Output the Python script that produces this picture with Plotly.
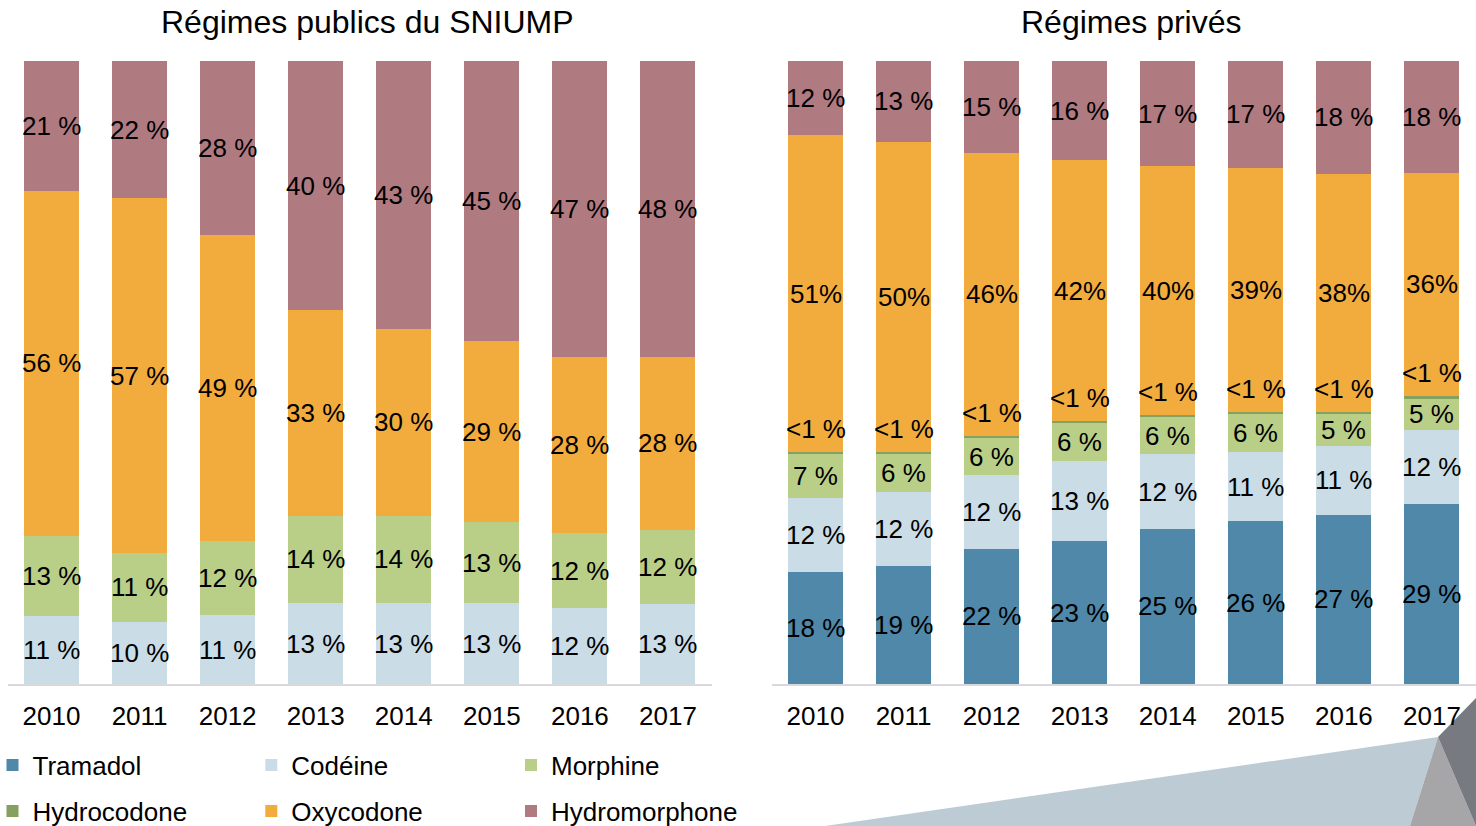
import plotly.graph_objects as go

W, H = 1476, 826

years = ["2010", "2011", "2012", "2013", "2014", "2015", "2016", "2017"]

# Régimes publics du SNIUMP (percent labels as shown)
pub_codeine = [11, 10, 11, 13, 13, 13, 12, 13]
pub_morphine = [13, 11, 12, 14, 14, 13, 12, 12]
pub_oxycodone = [56, 57, 49, 33, 30, 29, 28, 28]
pub_hydromorphone = [21, 22, 28, 40, 43, 45, 47, 48]

# Régimes privés
prv_tramadol = [18, 19, 22, 23, 25, 26, 27, 29]
prv_codeine = [12, 12, 12, 13, 12, 11, 11, 12]
prv_morphine = [7, 6, 6, 6, 6, 6, 5, 5]
prv_hydrocodone = [0.4, 0.4, 0.4, 0.4, 0.4, 0.4, 0.4, 0.4]  # "<1 %"
prv_oxycodone = [51, 50, 46, 42, 40, 39, 38, 36]
prv_hydromorphone = [12, 13, 15, 16, 17, 17, 18, 18]

legend_order = ["Tramadol", "Codéine", "Morphine", "Hydrocodone", "Oxycodone", "Hydromorphone"]

colors = {
    "Tramadol": "#4F88A8",
    "Codéine": "#CADDE6",
    "Morphine": "#B9CF88",
    "Hydrocodone": "#86A060",
    "Oxycodone": "#F2AC3D",
    "Hydromorphone": "#B07A81",
}

FONT = "Liberation Sans, Arial, sans-serif"
LBL = 26

public = [("Codéine", pub_codeine), ("Morphine", pub_morphine),
          ("Oxycodone", pub_oxycodone), ("Hydromorphone", pub_hydromorphone)]
private = [("Tramadol", prv_tramadol), ("Codéine", prv_codeine),
           ("Morphine", prv_morphine), ("Hydrocodone", prv_hydrocodone),
           ("Oxycodone", prv_oxycodone), ("Hydromorphone", prv_hydromorphone)]


def normalize(series):
    totals = [sum(s[1][i] for s in series) for i in range(len(years))]
    return [(name, [v / t * 100 for v, t in zip(vals, totals)], vals) for name, vals in series]


def legend_id(name):
    k = legend_order.index(name)
    return "legend" if k == 0 else f"legend{k + 1}"


fig = go.Figure()
annotations = []


def add_panel(series, xa, ya, showlegend):
    norm = normalize(series)
    base = [0.0] * len(years)
    for name, vals, raw in norm:
        fig.add_trace(go.Bar(
            x=years, y=vals, name=name, marker=dict(color=colors[name], line=dict(width=0)),
            xaxis=xa, yaxis=ya, showlegend=showlegend, legend=legend_id(name),
            hoverinfo="skip"))
        for i, (v, r) in enumerate(zip(vals, raw)):
            mid = base[i] + v / 2
            if name == "Hydrocodone":
                txt, ys = "<1 %", 24
            elif name == "Oxycodone" and xa == "x2":
                txt, ys = f"{r}%", 0
            else:
                txt, ys = f"{r} %", 0
            # category axis: annotation x given as category index
            annotations.append(dict(
                x=i, y=mid, xref=xa, yref=ya, text=txt, showarrow=False,
                yshift=ys, font=dict(family=FONT, size=LBL, color="#000000")))
            base[i] += v


add_panel(public, "x", "y", False)
add_panel(private, "x2", "y2", True)

y_dom = [142 / H, 765 / H]
axis_common = dict(type="category", showgrid=False, zeroline=False, showline=True,
                   linecolor="#D9D9D9", linewidth=2, ticks="",
                   range=[-0.5, 7.5],
                   tickfont=dict(family=FONT, size=26, color="#000000"),
                   ticklabelstandoff=8)
yaxis_common = dict(range=[0, 100], visible=False, showgrid=False, zeroline=False)

# titles
annotations.append(dict(x=367 / W, y=1 - 22 / H, xref="paper", yref="paper", showarrow=False,
                        text="Régimes publics du SNIUMP", xanchor="center", yanchor="middle",
                        font=dict(family=FONT, size=32, color="#000000")))
annotations.append(dict(x=1131 / W, y=1 - 22 / H, xref="paper", yref="paper", showarrow=False,
                        text="Régimes privés", xanchor="center", yanchor="middle",
                        font=dict(family=FONT, size=32, color="#000000")))


def P(x, y):
    return f"{x / W:.5f},{1 - y / H:.5f}"


shapes = [
    dict(type="path", xref="paper", yref="paper", layer="below", line=dict(width=0),
         fillcolor="#BDCCD4",
         path=f"M{P(825, 826)} L{P(1438, 737)} L{P(1410, 826)} Z"),
    dict(type="path", xref="paper", yref="paper", layer="below", line=dict(width=0),
         fillcolor="#A6A6A8",
         path=f"M{P(1438, 737)} L{P(1476, 826)} L{P(1410, 826)} Z"),
    dict(type="path", xref="paper", yref="paper", layer="below", line=dict(width=0),
         fillcolor="#777B81",
         path=f"M{P(1438, 737)} L{P(1476, 698)} L{P(1476, 826)} Z"),
]

# one single-entry legend per item (3 columns x 2 rows)
col_left = [-7.5, 251.3, 511]
row_mid = [765, 811]
legends = {}
for k, name in enumerate(legend_order):
    lid = "legend" if k == 0 else f"legend{k + 1}"
    legends[lid] = dict(orientation="h", xanchor="left", yanchor="middle",
                        x=col_left[k % 3] / W, y=1 - row_mid[k // 3] / H,
                        bgcolor="rgba(0,0,0,0)",
                        font=dict(family=FONT, size=26, color="#000000"))

fig.update_layout(
    width=W, height=H,
    margin=dict(l=0, r=0, t=0, b=0, autoexpand=False),
    paper_bgcolor="#FFFFFF", plot_bgcolor="#FFFFFF",
    barmode="stack", bargap=0.375,
    xaxis=dict(domain=[7.5 / W, 712 / W], anchor="y", **axis_common),
    xaxis2=dict(domain=[771.5 / W, 1.0], anchor="y2", **axis_common),
    yaxis=dict(domain=y_dom, anchor="x", **yaxis_common),
    yaxis2=dict(domain=y_dom, anchor="x2", **yaxis_common),
    annotations=annotations,
    shapes=shapes,
    showlegend=True,
    **legends,
)

fig.write_html("out.html", config={"displayModeBar": False},
               post_script="document.body.style.margin='0';")
